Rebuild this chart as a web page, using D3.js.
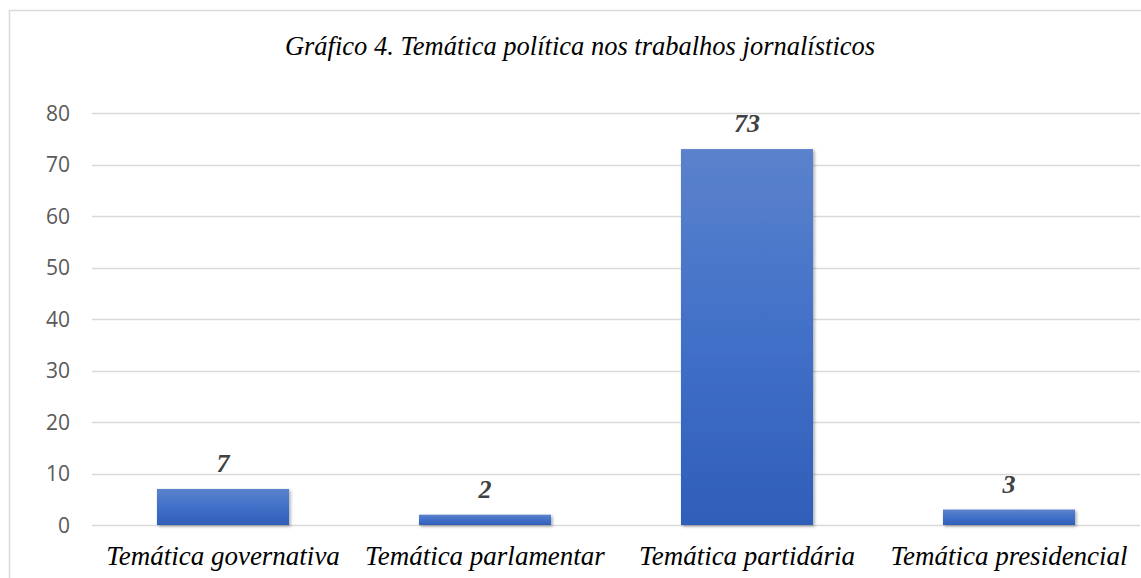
<!DOCTYPE html>
<html>
<head>
<meta charset="utf-8">
<script src="https://cdn.jsdelivr.net/npm/d3@7"></script>
<style>
  body { margin: 0; background: #fff; }
</style>
</head>
<body>
<div id="chart"></div>
<script>
// Data
let categories = ["Temática governativa", "Temática parlamentar", "Temática partidária", "Temática presidencial"];
let values = [7, 2, 73, 3];
let yTicks = [0, 10, 20, 30, 40, 50, 60, 70, 80];
let title = "Gráfico 4. Temática política nos trabalhos jornalísticos";

// Svg defs
let w = 1141,
    h = 578;
let margin = { left: 92, right: 1, top: 113, bottom: 53 };

let svg = d3.select("#chart")
  .append("svg")
  .attr("width", w)
  .attr("height", h);

let defs = svg.append("defs");
let grad = defs.append("linearGradient")
  .attr("id", "barGrad")
  .attr("x1", 0).attr("y1", 0)
  .attr("x2", 0).attr("y2", 1);
grad.append("stop").attr("offset", "0%").attr("stop-color", "#5b82cc");
grad.append("stop").attr("offset", "50%").attr("stop-color", "#4170c8");
grad.append("stop").attr("offset", "100%").attr("stop-color", "#2f5eb8");

defs.append("filter")
  .attr("id", "shadow")
  .attr("x", "-10%").attr("y", "-10%")
  .attr("width", "130%").attr("height", "140%")
  .append("feDropShadow")
  .attr("dx", 1.5).attr("dy", 1.5)
  .attr("stdDeviation", 1.5)
  .attr("flood-color", "#000")
  .attr("flood-opacity", 0.35);

// Outer frame
svg.append("path")
  .attr("d", `M9.5,${h} V10.5 H${w}`)
  .attr("fill", "none")
  .attr("stroke", "#d9d9d9")
  .attr("stroke-width", 1.5);

// Scales
let x = d3.scaleBand()
  .domain(categories)
  .range([margin.left, w - margin.right])
  .paddingInner(0.496)
  .paddingOuter(0.248);

let y = d3.scaleLinear()
  .domain([0, 80])
  .range([h - margin.bottom, margin.top]);

// Gridlines
svg.append("g")
  .selectAll("line")
  .data(yTicks)
  .join("line")
  .attr("x1", margin.left)
  .attr("x2", w - margin.right)
  .attr("y1", (d) => Math.round(y(d)) + 0.5)
  .attr("y2", (d) => Math.round(y(d)) + 0.5)
  .attr("stroke", "#d9d9d9")
  .attr("stroke-width", 1.5);

// Y axis labels
let yAxis = svg.append("g")
  .attr("transform", `translate(${margin.left - 22},0)`)
  .call(d3.axisLeft(y).tickValues(yTicks).tickSize(0).tickPadding(0));
yAxis.select(".domain").remove();
yAxis.selectAll("text")
  .attr("fill", "#595959")
  .attr("font-family", "'Open Sans', sans-serif")
  .attr("font-size", 21)
  .attr("dy", "0.35em");

// Bars
svg.append("g")
  .selectAll("rect")
  .data(values)
  .join("rect")
  .attr("x", (d, i) => x(categories[i]))
  .attr("y", (d) => y(d))
  .attr("width", x.bandwidth())
  .attr("height", (d) => y(0) - y(d))
  .attr("fill", "url(#barGrad)")
  .attr("filter", "url(#shadow)");

// Value labels
svg.append("g")
  .selectAll("text")
  .data(values)
  .join("text")
  .attr("x", (d, i) => x(categories[i]) + x.bandwidth() / 2)
  .attr("y", (d) => y(d) - 17)
  .attr("text-anchor", "middle")
  .attr("font-family", "'Liberation Serif', 'Times New Roman', serif")
  .attr("font-style", "italic")
  .attr("font-weight", "bold")
  .attr("font-size", 26)
  .attr("fill", "#404040")
  .text((d) => d);

// Category labels
svg.append("g")
  .selectAll("text")
  .data(categories)
  .join("text")
  .attr("x", (d) => x(d) + x.bandwidth() / 2)
  .attr("y", 565)
  .attr("text-anchor", "middle")
  .attr("font-family", "'Liberation Serif', 'Times New Roman', serif")
  .attr("font-style", "italic")
  .attr("font-size", 27)
  .attr("fill", "#000")
  .text((d) => d);

// Title
svg.append("text")
  .attr("x", 580)
  .attr("y", 55)
  .attr("text-anchor", "middle")
  .attr("font-family", "'Liberation Serif', 'Times New Roman', serif")
  .attr("font-style", "italic")
  .attr("font-size", 26.5)
  .attr("fill", "#000")
  .text(title);
</script>
</body>
</html>
